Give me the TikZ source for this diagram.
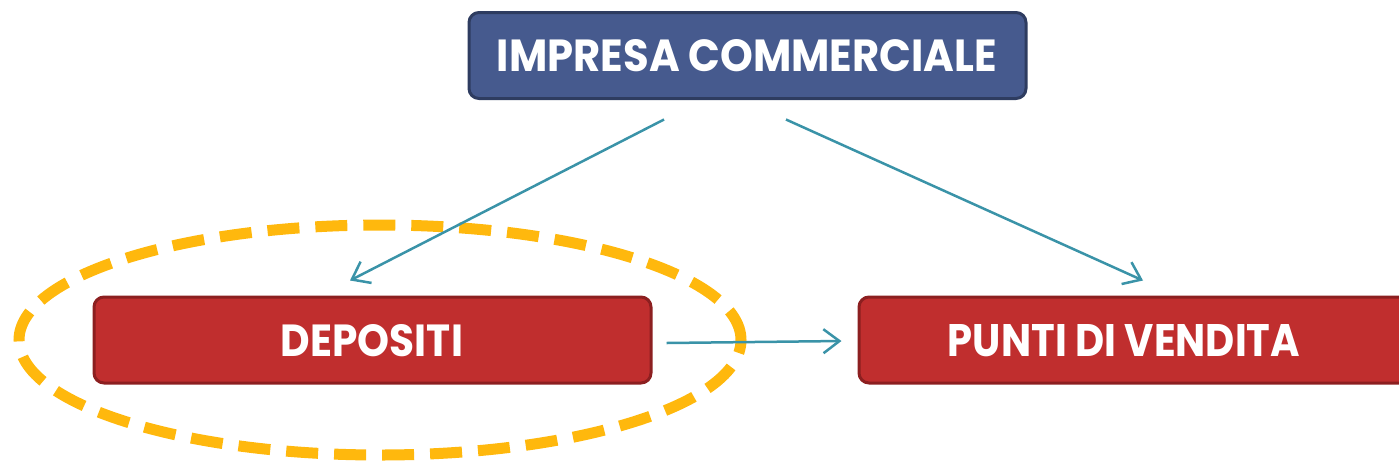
\documentclass[tikz,border=0pt]{standalone}
\usepackage{fontspec}
\setmainfont{Poppins}
\usetikzlibrary{arrows.meta}
\definecolor{boxblue}{HTML}{465A8E}
\definecolor{boxblueb}{HTML}{2E3C60}
\definecolor{boxred}{HTML}{C02E2E}
\definecolor{boxredb}{HTML}{8C1F20}
\definecolor{arrowteal}{HTML}{3A93A8}
\definecolor{hlorange}{HTML}{FFB80D}
\tikzset{
  blockbox/.style={rectangle, rounded corners=10pt, line width=3pt, minimum width=557pt, minimum height=86pt, inner sep=0pt},
  bluebox/.style={blockbox, fill=boxblue, draw=boxblueb},
  redbox/.style={blockbox, fill=boxred, draw=boxredb},
  lbl/.style={text=white, inner sep=0pt},
  conn/.style={draw=arrowteal, line width=2.5pt, -{Straight Barb[length=16pt,width=24pt,line width=2.5pt]}},
  highlight/.style={draw=hlorange, line width=11pt, dash pattern=on 32pt off 16pt}
}
\newcommand{\boxtext}[2]{\resizebox{#1}{32pt}{\bfseries #2}}
\begin{document}
\begin{tikzpicture}[x=1pt,y=-1pt]
\useasboundingbox (0,0) rectangle (1399,467);
\node[bluebox] (top) at (747.5,55.5) {};
\node[lbl] (toplbl) at (747,56) {\boxtext{500pt}{IMPRESA COMMERCIALE}};
\node[redbox] (dep) at (372.5,340) {};
\node[lbl] (deplbl) at (372,341) {\boxtext{182pt}{DEPOSITI}};
\node[redbox, minimum width=580pt] (pv) at (1149,340) {};
\node[lbl] (pvlbl) at (1124,341) {\boxtext{352pt}{PUNTI DI VENDITA}};
\draw[highlight] (380,340) ellipse [x radius=361pt, y radius=115pt];
\draw[conn] ([xshift=-83.5pt,yshift=-19.5pt]top.south) -- ([xshift=-22.5pt,yshift=15pt]dep.north);
\draw[conn] ([xshift=38.5pt,yshift=-19.5pt]top.south) -- ([xshift=-6pt,yshift=15pt]pv.north);
\draw[conn] ([xshift=14pt,yshift=-3pt]dep.east) -- ([xshift=-16pt,yshift=-1pt]pv.west);
\end{tikzpicture}
\end{document}
